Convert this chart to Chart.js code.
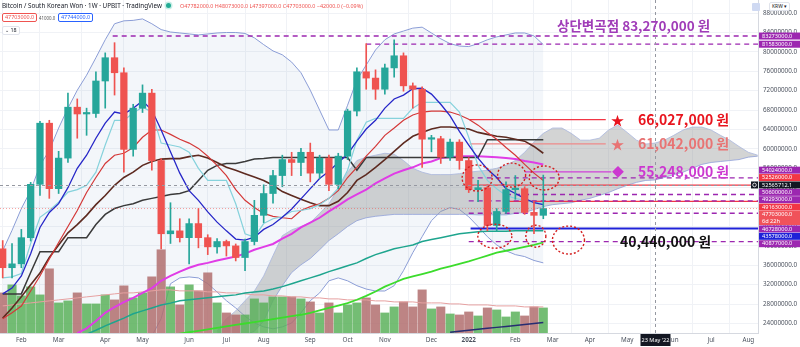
<!DOCTYPE html>
<html>
<head>
<meta charset="utf-8">
<title>BTC/KRW 1W</title>
<script src="https://cdn.jsdelivr.net/npm/chart.js@4.4.1/dist/chart.umd.min.js"></script>
<style>
  html, body { margin: 0; padding: 0; background: #fff; }
  #wrap { position: relative; width: 800px; height: 347px; overflow: hidden; font-family: 'Noto Sans', 'Liberation Sans', sans-serif; }
  #chart { position: absolute; left: 0; top: 0; }
  .hdr { position: absolute; white-space: nowrap; line-height: 1; }
  .box { position: absolute; border: 1px solid; border-radius: 2px; padding: 1px 2px; line-height: 1; white-space: nowrap; background: #fff; }
</style>
</head>
<body>
<div id="wrap">
  <canvas id="chart" width="800" height="347"></canvas>

  <div class="hdr" style="left:2px;top:3px;font-size:6.3px;color:#131722">Bitcoin / South Korean Won · 1W · UPBIT · TradingView</div>
  <div class="hdr" style="left:166px;top:3px;width:5px;height:5px;border-radius:50%;background:#22ab94;box-shadow:0 0 0 1.5px #c8eee6"></div>
  <div class="hdr" style="left:180px;top:3.5px;font-size:5.4px;color:#ef5350">O47782000.0 H48073000.0 L47397000.0 C47703000.0 −42000.0 (−0.09%)</div>
  <div class="box" style="left:2px;top:13px;font-size:5.4px;color:#ef5350;border-color:#ef5350">47703000.0</div>
  <div class="hdr" style="left:39px;top:16px;font-size:4.4px;color:#555">41000.0</div>
  <div class="box" style="left:58px;top:13px;font-size:5.4px;color:#2962ff;border-color:#2962ff">47744000.0</div>
  <div class="box" style="left:2px;top:26px;font-size:5.4px;color:#131722;border-color:#e0e3eb">⌄ 18</div>
  <div class="hdr" style="left:752px;top:3px;width:8px;height:8px;border-radius:1px;background:#cfd9f2"></div>
  <div class="box" style="left:769px;top:2px;font-size:5px;color:#131722;border-color:#e0e3eb">KRW ▾</div>
</div>

<script>
/* ---------- weekly candles, Jan 18 2021 onwards (KRW, millions) ---------- */
const openP  = [39.4,35.5,36.3,41.7,52.7,65.3,51.8,58.1,68.6,67.2,
                67.3,74.0,78.8,75.7,59.9,68.4,71.5,57.6,42.5,43.1,
                41.7,44.6,41.7,39.8,40.9,40.0,37.6,40.9,46.3,50.8,
                54.5,57.8,57.2,59.3,55.0,58.1,52.7,58.5,67.8,75.9,
                74.6,72.3,76.7,79.2,73.0,72.3,62.0,62.1,58.3,61.4,
                57.6,51.6,52.0,44.2,47.1,51.6,51.8,46.9,46.3];
const highP  = [41.1,40.5,43.4,53.1,65.7,65.9,59.5,71.5,70.3,68.4,
                75.9,79.8,81.9,76.7,69.2,73.2,72.3,58.0,48.9,45.6,
                45.6,47.7,42.3,41.5,41.2,40.4,41.4,49.4,52.6,55.6,
                58.7,59.3,60.1,61.2,58.7,58.7,59.1,68.2,76.7,81.7,
                76.3,77.5,82.5,79.8,73.6,72.8,62.8,62.6,62.0,61.9,
                58.2,53.5,52.6,47.7,53.2,54.5,52.2,49.2,54.6];
const lowP   = [33.4,33.4,35.5,41.0,50.4,49.8,50.8,57.2,62.2,62.8,
                66.5,68.4,71.1,55.2,58.5,67.5,55.6,39.4,40.5,40.8,
                36.3,39.6,38.2,38.5,37.9,36.9,34.9,40.2,44.8,48.8,
                52.2,54.5,54.5,53.2,53.9,51.4,51.8,57.8,66.8,72.3,
                70.2,71.3,74.8,71.9,68.4,56.2,59.4,57.0,57.6,55.8,
                51.0,49.1,43.1,43.0,46.7,49.6,46.5,42.5,45.6];
const closeP = [35.5,36.3,41.7,52.7,65.3,51.8,58.1,68.6,67.2,67.3,
                74.0,78.8,75.7,59.9,68.4,71.5,57.6,42.5,43.1,41.7,
                44.6,41.7,39.8,40.9,40.0,37.6,40.9,46.3,50.8,54.5,
                57.8,57.2,59.3,55.0,58.1,52.7,58.5,67.8,75.9,74.6,
                72.3,76.7,79.2,73.0,72.3,62.0,62.1,58.3,61.4,57.6,
                51.6,52.0,44.2,47.1,51.6,51.8,46.9,46.3,47.703];
const volume = [40,48,37,46,38,64,30,32,40,29,
                29,38,33,47,35,40,56,83,46,28,
                48,42,60,30,20,18,18,34,30,36,
                36,36,34,31,20,30,20,28,30,35,
                28,20,26,31,26,43,24,26,19,18,
                21,17,25,23,16,21,17,26,25];
const volMa  = [27,28,29,30,31,32,33,34,35,36,
                37,38,39,40,40,41,42,43,43,42,
                42,42,41,41,40,40,39,38,38,37,
                37,36,36,35,35,34,34,33,33,33,
                32,32,31,31,31,30,30,30,29,29,
                28,28,28,27,27,27,26,26,26];

/* ---------- indicator lines (first value sits on the week given by *From) ---------- */
const maBlue = [30.1,31.3,33.8,38.4,43.8,46.9,48.7,52.0,56.0,58.7,
                62.2,65.3,67.6,67.2,68.4,69.9,68.0,63.9,59.4,55.0,
                51.4,49.4,47.0,44.9,43.1,41.4,41.2,41.8,43.4,44.4,
                45.9,47.6,49.7,51.8,53.9,55.4,57.2,58.9,61.6,64.1,
                65.9,68.4,70.3,71.1,72.4,72.5,71.3,69.2,66.8,63.6,
                60.8,58.1,55.8,54.1,51.8,50.8,49.8,48.9,48.5];
const tenkan = [33.4,33.6,34.3,40.5,45.9,47.3,49.0,51.1,51.6,52.5,
                55.2,60.8,65.9,65.9,67.4,68.6,67.6,61.2,60.8,60.4,
                59.3,56.0,53.5,53.5,53.5,48.7,42.5,41.8,44.6,45.6,
                46.0,47.1,47.3,47.7,48.5,49.8,51.9,55.6,61.8,65.5,
                66.3,66.3,66.3,66.3,68.4,69.6,69.6,69.6,69.6,67.6,
                62.4,56.6,53.5,51.8,50.4,49.8,49.4,49.0,48.7];
const maRed  = [25.0,26.2,27.6,30.7,33.8,37.3,40.7,44.0,47.3,51.0,
                54.1,57.0,58.7,59.1,60.3,62.4,63.9,63.9,63.0,62.0,
                61.2,60.1,58.5,56.6,54.5,51.6,49.4,47.9,46.7,46.1,
                45.8,45.6,47.3,48.1,48.7,49.8,51.4,54.1,56.2,58.5,
                60.5,62.8,64.3,65.9,67.0,67.6,67.8,67.8,67.6,67.0,
                66.1,64.9,63.4,62.0,60.3,58.7,56.8,55.0,53.5];
const maBrown = [25.1,27.2,29.5,32.0,34.4,37.6,40.2,42.7,44.4,46.3,
                 48.5,50.4,52.5,54.1,55.2,56.6,57.4,57.9,58.0,58.0,
                 58.4,58.7,58.1,57.2,56.2,55.6,54.9,54.2,53.5,52.5,
                 51.2,50.4,49.6,48.9,48.3,48.3,49.2,51.0,53.5,54.7,
                 56.2,57.8,59.5,61.2,62.6,63.4,64.1,64.5,64.5,64.3,
                 64.1,63.4,63.0,62.6,62.4,62.0,61.6,60.5,59.1];
const kijun  = [30.1,30.1,30.1,34.5,38.8,38.8,38.8,41.7,41.7,41.7,
                44.4,46.5,47.7,48.3,48.7,49.4,49.8,50.2,50.6,50.8,
                51.4,53.5,55.6,56.6,57.0,57.0,57.4,57.9,58.0,58.2,
                58.2,58.2,58.2,58.2,58.2,58.2,58.2,58.2,55.6,58.2,
                58.2,58.2,58.2,58.2,58.2,58.2,58.2,58.2,58.2,58.2,
                58.2,58.2,61.9,61.9,61.9,61.9,61.9,61.9,61.9];
const maMagentaFrom = 8;
const maMagenta = [22.0,23.0,24.5,26.2,27.4,28.4,29.3,30.3,31.3,32.8,
                   33.8,34.7,35.5,36.1,36.5,37.0,37.4,37.8,38.4,39.2,
                   39.8,40.4,41.5,42.5,43.8,44.8,45.8,47.1,48.3,49.6,
                   50.6,51.6,52.9,53.9,54.9,55.6,56.2,57.0,57.4,58.1,
                   58.3,58.5,58.5,58.5,58.4,58.3,58.1,57.9,57.5,57.2,56.8];
const maTealFrom = 9;
const maTeal = [21.8,22.6,23.5,24.3,25.1,26.0,26.6,27.2,27.8,28.2,
                28.7,28.9,29.1,29.3,29.5,29.7,29.9,30.3,30.5,30.7,
                31.1,31.6,32.2,32.8,33.4,34.0,34.7,35.3,35.9,36.5,
                37.4,38.2,38.8,39.4,39.8,40.2,40.9,41.3,41.7,42.1,
                42.5,42.7,42.9,43.0,43.0,43.0,43.1,43.1,43.1,43.1];
const maGreenFrom = 18;
const maGreen = [21.6,21.9,22.2,22.5,22.8,23.1,23.4,23.7,24.0,24.3,
                 24.6,24.9,25.2,25.5,25.8,26.2,26.7,27.2,27.7,28.2,
                 28.9,29.7,30.6,31.6,32.4,33.2,33.7,34.2,34.7,35.3,
                 35.8,36.3,36.8,37.4,38.0,38.6,39.0,39.4,39.8,40.2,40.7];
const maNavyFrom = 48;
const maNavy = [22.2,22.4,22.6,22.8,23.0,23.2,23.4,23.6,23.8,24.0,24.2];

const bbUpper = [39.0,43.2,47.7,51.4,56.6,59.7,64.3,68.4,72.1,75.2,
                 78.8,82.5,85.8,86.4,86.5,86.8,85.8,84.6,84.1,83.9,
                 83.7,83.5,83.7,83.9,84.0,84.0,83.8,82.9,81.5,80.2,
                 79.4,77.9,75.7,72.1,68.0,63.9,63.9,69.0,74.2,77.3,
                 80.4,82.5,83.7,84.3,84.9,85.1,83.9,82.7,81.7,81.2,
                 81.1,81.7,82.5,83.1,83.5,83.9,83.9,83.3,81.5];
const bbLower = [18.0,18.5,19.0,19.5,20.0,20.5,21.0,21.0,21.0,21.0,
                 20.5,20.0,19.5,19.5,20.0,20.5,21.4,25.0,32.2,33.4,
                 33.6,33.4,32.2,30.5,28.7,27.2,25.5,24.1,23.3,22.9,
                 23.3,24.1,26.2,28.7,30.3,32.8,33.4,32.8,31.8,31.1,
                 30.7,30.7,31.8,34.9,38.6,41.9,45.2,47.1,47.9,47.5,
                 46.0,44.0,41.9,40.2,39.0,38.2,37.8,37.0,36.5];

// Ichimoku cloud, projected forward past the last candle
const cloudFrom = 23;
const cloudTop = [22.4,25.0,26.6,28.7,30.7,33.8,38.0,42.1,43.3,44.0,
                  44.8,46.7,48.7,51.8,55.2,57.6,58.3,58.7,59.1,58.9,
                  57.6,56.0,55.2,54.7,54.7,54.7,54.9,55.2,55.4,55.6,
                  56.0,56.6,57.6,59.3,61.4,63.2,64.3,64.3,63.2,61.8,
                  61.8,62.2,63.9,64.9,63.4,61.8,61.0,61.2,61.8,62.8,
                  63.9,64.5,64.5,63.9,62.8,61.8,60.5,59.3,58.7];
const cloudBottom = [20.4,20.8,21.2,21.6,22.4,24.5,28.7,31.8,34.5,36.1,
                     37.4,39.2,41.1,42.5,44.0,45.2,45.8,46.1,46.3,46.5,
                     46.5,46.5,46.5,46.5,46.5,46.5,46.5,46.5,46.4,46.4,
                     46.4,46.4,46.7,46.9,47.5,48.1,48.5,48.7,48.9,49.4,
                     49.8,50.4,51.0,51.8,52.5,53.1,53.5,53.6,54.1,54.7,
                     55.2,56.0,56.8,57.2,57.4,57.6,57.8,58.3,58.5];

/* ---------- drawn price levels ---------- */
const levelPrice = [83.273, 81.583, 66.027, 61.042, 55.248, 54.024, 52.526, 50.6, 49.293, 49.163, 46.728, 43.578, 40.877];
const levelFrom  = [11.8,   39.0,   50.1,   50.1,   56.0,   50.0,   50.0,   54.0, 50.0,   54.0,   50.0,   50.2,   50.0];
const levelTo    = [null,   null,   64.7,   64.7,   65.3,   null,   null,   null, null,   null,   null,   null,   null];
const levelKind  = ['dash', 'dash', 'red',  'salmon','magenta','dash','red', 'dash','dash', 'red',  'dash', 'blue', 'dash'];

// values flagged on the price axis
const axisFlagPrice = [83.273, 81.583, 54.024, 52.526, 50.6, 49.293, 49.163, 47.703, 46.728, 43.578, 40.877];
const axisFlagKind  = ['dash', 'dash', 'dash', 'red', 'dash', 'dash', 'red', 'last', 'dash', 'blue', 'dash'];

const monthTickIdx  = [2, 6, 11, 15, 20, 24, 28, 33, 37, 41, 46, 50, 55, 59, 63, 67, 72, 76, 80];
const monthTickText = ['Feb','Mar','Apr','May','Jun','Jul','Aug','Sep','Oct','Nov','Dec','2022','Feb','Mar','Apr','May','Jun','Jul','Aug'];

const crossWeek = 70, crossWeekText = "23 May '22", crossPrice = 52.5657121;
const lastClose = closeP[closeP.length - 1];

// dotted rings around the retest zones: [week, price]
const rings = [[50.9, 54.0], [54.6, 54.6], [58.1, 54.0], [52.8, 42.0], [57.2, 42.0], [60.7, 41.2]];
const ringRadius = [[15, 13], [14, 12], [15, 12], [17, 12], [10, 11], [16, 14]];

/* ---------- styling ---------- */
const UP = '#26a69a', DOWN = '#ef5350';
const FONT = "'Noto Sans', 'Liberation Sans', sans-serif";
const KR = "'Noto Sans CJK KR', 'Noto Sans', sans-serif";
const X_MIN = -0.29, X_MAX = 81.035;
const levelStyle = {
  dash:    { color: '#9c27b0', width: 1.3, dash: [5, 4] },
  red:     { color: '#f23645', width: 1.3, dash: [] },
  salmon:  { color: '#ef8a8a', width: 1.3, dash: [] },
  magenta: { color: '#d040d8', width: 1.2, dash: [] },
  blue:    { color: '#1f22d8', width: 2,   dash: [] }
};
const flagColor = { dash: '#9c27b0', red: '#f23645', last: '#f0525a', blue: '#1f22d8' };

const pts = (arr, from = 0) => arr.map((v, k) => ({ x: from + k, y: v }));
const candleColor = closeP.map((c, i) => (c >= openP[i] ? UP : DOWN));
const volColor = closeP.map((c, i) => (c >= openP[i] ? 'rgba(92,178,92,0.85)' : 'rgba(178,110,110,0.85)'));

function line(label, data, color, width, order, extra) {
  return Object.assign({
    type: 'line', label, data, borderColor: color, borderWidth: width,
    pointRadius: 0, fill: false, tension: 0, order, yAxisID: 'y'
  }, extra || {});
}

const levelSets = levelPrice.map((p, k) => {
  const st = levelStyle[levelKind[k]];
  return line('level ' + p, [{ x: levelFrom[k], y: p }, { x: levelTo[k] ?? X_MAX + 1, y: p }],
    st.color, st.width, 60, { borderDash: st.dash });
});

/* ---------- overlay: crosshair, rings, notes, axis flags ---------- */
// push overlapping axis flags apart; the crosshair flag stays put and
// sorts just below any flag sharing its pixel row
function spreadFlags(items, gap) {
  items.sort((a, b) => (a.y + (a.fixed ? 0.6 : 0)) - (b.y + (b.fixed ? 0.6 : 0)));
  for (let it = 0; it < 120; it++) {
    let moved = false;
    for (let k = 0; k < items.length - 1; k++) {
      const a = items[k], b = items[k + 1];
      const over = (a.y + a.h / 2 + gap) - (b.y - b.h / 2);
      if (over > 0.01) {
        moved = true;
        if (a.fixed) b.y += over;
        else if (b.fixed) a.y -= over;
        else { a.y -= over / 2; b.y += over / 2; }
      }
    }
    if (!moved) break;
  }
}

const overlay = {
  id: 'overlay',
  afterDatasetsDraw(chart) {
    const { ctx, chartArea: a } = chart;
    const xs = chart.scales.x, ys = chart.scales.y;
    ctx.save();
    ctx.beginPath();
    ctx.rect(a.left, a.top, a.right - a.left, a.bottom - a.top);
    ctx.clip();

    // last price line
    const yl = ys.getPixelForValue(lastClose);
    ctx.strokeStyle = 'rgba(239,83,80,0.55)';
    ctx.lineWidth = 1;
    ctx.setLineDash([1, 2]);
    ctx.beginPath(); ctx.moveTo(a.left, yl); ctx.lineTo(a.right, yl); ctx.stroke();

    // crosshair
    const cx = Math.round(xs.getPixelForValue(crossWeek)) + 0.5;
    const cy = Math.round(ys.getPixelForValue(crossPrice)) + 0.5;
    ctx.strokeStyle = '#9598a1';
    ctx.setLineDash([3, 3]);
    ctx.beginPath(); ctx.moveTo(cx, a.top); ctx.lineTo(cx, a.bottom); ctx.stroke();
    ctx.beginPath(); ctx.moveTo(a.left, cy); ctx.lineTo(a.right, cy); ctx.stroke();

    // dotted rings
    ctx.strokeStyle = '#d41f1f';
    ctx.lineWidth = 1.4;
    ctx.setLineDash([2, 2]);
    rings.forEach(([w, p], k) => {
      ctx.beginPath();
      ctx.ellipse(xs.getPixelForValue(w), ys.getPixelForValue(p), ringRadius[k][0], ringRadius[k][1], 0, 0, Math.PI * 2);
      ctx.stroke();
    });
    ctx.restore();

    // notes
    ctx.save();
    ctx.textBaseline = 'middle';
    const note = (txt, x, p, color, size, dy) => {
      ctx.fillStyle = color;
      ctx.font = `bold ${size}px ${KR}`;
      ctx.fillText(txt, x, ys.getPixelForValue(p) + (dy || 0));
    };
    note('상단변곡점 83,270,000 원', 557, 83.273, '#a03cb8', 13.5, -10);
    note('★', 611, 66.027, '#e8141e', 13);
    note('66,027,000 원', 638, 66.027, '#e8141e', 14);
    note('★', 611, 61.042, '#e87474', 13);
    note('61,042,000 원', 638, 61.042, '#e87474', 14);
    note('◆', 612, 55.248, '#cc38d0', 12);
    note('55,248,000 원', 638, 55.248, '#cc38d0', 14);
    note('40,440,000 원', 620, 40.44, '#111111', 14, -2);
    ctx.restore();

    // price-axis flags
    ctx.save();
    const lh = 7, bx = a.right + 1, bw = 800 - bx;
    const items = axisFlagPrice.map((p, k) => {
      const rows = axisFlagKind[k] === 'last' ? 2 : 1;
      return { p, kind: axisFlagKind[k], rows, h: rows * lh, y: ys.getPixelForValue(p) + (rows - 1) * lh / 2, fixed: false };
    });
    items.push({ p: crossPrice, kind: 'cross', rows: 1, h: lh, y: ys.getPixelForValue(crossPrice), fixed: true });
    spreadFlags(items, 0.4);
    ctx.font = `5.6px ${FONT}`;
    ctx.textBaseline = 'middle';
    items.forEach(it => {
      const top = it.y - it.h / 2;
      ctx.fillStyle = it.kind === 'cross' ? '#131722' : flagColor[it.kind];
      ctx.fillRect(bx, top, bw, it.h);
      ctx.fillStyle = '#fff';
      ctx.fillText((it.p * 1e6).toFixed(1), bx + 3, top + lh / 2);
      if (it.kind === 'last') ctx.fillText('6d 22h', bx + 3, top + lh * 1.5);
      if (it.kind === 'cross') {
        ctx.fillStyle = '#131722';
        ctx.fillRect(a.right - 7, it.y - 3.5, 7, 7);
        ctx.strokeStyle = '#fff';
        ctx.lineWidth = 0.8;
        ctx.beginPath(); ctx.arc(a.right - 3.5, it.y, 1.8, 0, Math.PI * 2); ctx.stroke();
      }
    });

    // time-axis crosshair flag
    ctx.fillStyle = '#131722';
    ctx.fillRect(cx - 15, a.bottom + 1, 30, 12);
    ctx.fillStyle = '#fff';
    ctx.textAlign = 'center';
    ctx.fillText(crossWeekText, cx, a.bottom + 7);
    ctx.restore();
  }
};

/* ---------- chart ---------- */
new Chart(document.getElementById('chart'), {
  type: 'bar',
  data: {
    datasets: [
      line('BB upper', pts(bbUpper), '#8b9dd6', 1, 100, { fill: '+1', backgroundColor: 'rgba(120,160,205,0.09)' }),
      line('BB lower', pts(bbLower), '#8b9dd6', 1, 99),
      line('cloud top', pts(cloudTop, cloudFrom), '#a9b6dd', 0.8, 95, { fill: '+1', backgroundColor: 'rgba(150,152,152,0.42)' }),
      line('cloud bottom', pts(cloudBottom, cloudFrom), '#8fa0d8', 0.8, 94),
      {
        type: 'bar', label: 'volume', data: pts(volume), yAxisID: 'vol',
        backgroundColor: volColor, barThickness: 8.4, grouped: false, order: 90
      },
      line('volume MA', pts(volMa), '#e6a0a0', 1, 89, { yAxisID: 'vol' }),
      ...levelSets,
      line('MA green', pts(maGreen, maGreenFrom), '#3cdc2c', 1.8, 48),
      line('MA teal', pts(maTeal, maTealFrom), '#1ea58e', 1.5, 47),
      line('MA navy', pts(maNavy, maNavyFrom), '#262c72', 1.5, 47),
      line('MA magenta', pts(maMagenta, maMagentaFrom), '#e03ce6', 2, 46),
      line('kijun', pts(kijun), '#3a3a3a', 1.5, 45),
      line('MA brown', pts(maBrown), '#5d2a20', 1.6, 44),
      line('MA red', pts(maRed), '#d43838', 1.2, 43),
      line('tenkan', pts(tenkan), '#86d2dc', 1.2, 42),
      line('MA blue', pts(maBlue), '#2626c8', 1.3, 41),
      {
        type: 'bar', label: 'wick', data: closeP.map((c, i) => ({ x: i, y: [lowP[i], highP[i]] })),
        backgroundColor: candleColor, barThickness: 1, grouped: false, order: 2
      },
      {
        type: 'bar', label: 'body', data: closeP.map((c, i) => ({ x: i, y: [openP[i], c] })),
        backgroundColor: candleColor, barThickness: 6.6, grouped: false, minBarLength: 1.5, order: 1
      }
    ]
  },
  options: {
    responsive: false,
    animation: false,
    devicePixelRatio: 1,
    layout: { padding: 0 },
    plugins: { legend: { display: false }, tooltip: { enabled: false } },
    scales: {
      x: {
        type: 'linear', min: X_MIN, max: X_MAX, offset: false,
        afterBuildTicks: s => { s.ticks = monthTickIdx.map(v => ({ value: v })); },
        afterFit: s => { s.height = 14; s.paddingLeft = 0; s.paddingRight = 0; },
        ticks: {
          autoSkip: false, maxRotation: 0, padding: 3, color: '#4c525e',
          font: c => ({ size: 6.3, family: FONT, weight: c.tick && c.tick.value === 50 ? 'bold' : 'normal' }),
          callback: v => monthTickText[monthTickIdx.indexOf(v)]
        },
        grid: { color: '#f0f2f6', drawTicks: false },
        border: { color: '#d6d9e0' }
      },
      y: {
        type: 'linear', position: 'right', min: 22.04, max: 90.70,
        afterFit: s => { s.width = 42; s.paddingTop = 0; s.paddingBottom = 0; },
        ticks: {
          stepSize: 4, includeBounds: false, padding: 5, color: '#4c525e',
          font: { size: 6.3, family: FONT },
          callback: v => (v * 1e6).toFixed(1)
        },
        grid: { color: '#f0f2f6', drawTicks: false },
        border: { color: '#d6d9e0' }
      },
      vol: { display: false, min: 0, max: Math.max(...volume) * 4 }
    }
  },
  plugins: [overlay]
});
</script>
</body>
</html>
